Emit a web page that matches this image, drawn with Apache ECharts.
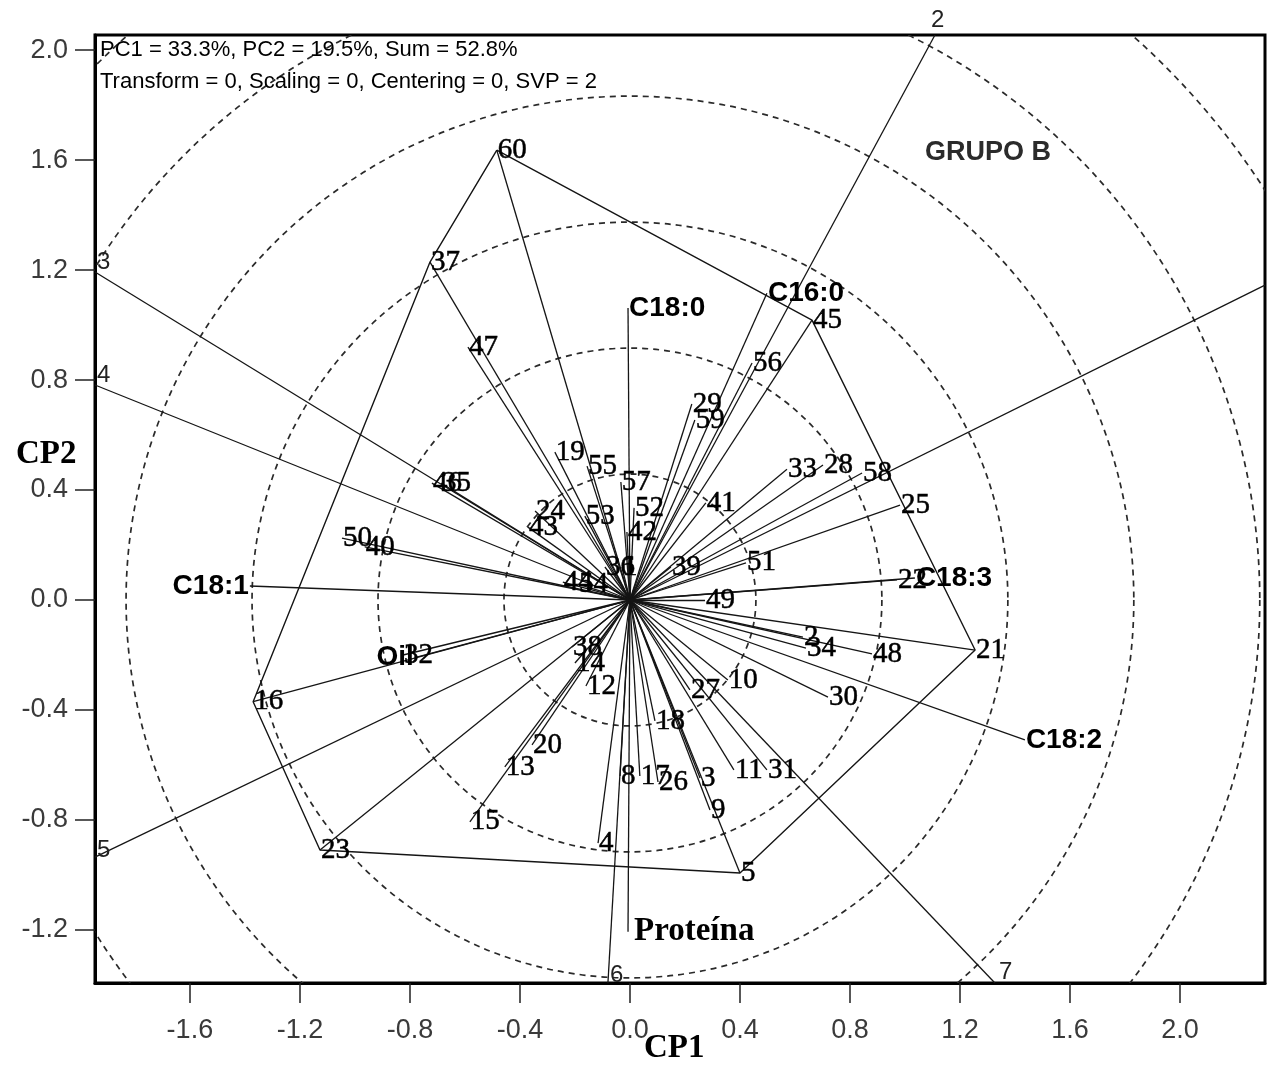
<!DOCTYPE html>
<html><head><meta charset="utf-8">
<script src="https://cdn.jsdelivr.net/npm/echarts@6/dist/echarts.min.js"></script>
<style>html,body{margin:0;padding:0;background:#fff}#c{width:1274px;height:1068px}</style>
</head><body><div id="c"></div>
<script>
// ---- data ----
const genoLabels = ['60','37','47','46','35','50','40','19','55','57','52','53','24','43','42',
  '29','59','56','45','33','28','58','25','41','39','51','49','22',
  '21','48','34','2','10','27','30','18','11','31','3','9','26','17','8','5','4',
  '12','38','14','20','13','15','23','16','32','44','54','36','1'];
const genoX = [-0.484,-0.727,-0.589,-0.720,-0.687,-1.047,-0.964,-0.273,-0.156,-0.033,0.015,-0.164,-0.345,-0.371,-0.011,
  0.225,0.236,0.444,0.662,0.571,0.702,0.844,0.982,0.276,0.149,0.422,0.273,0.971,
  1.255,0.880,0.640,0.629,0.356,0.218,0.720,0.091,0.378,0.498,0.255,0.291,0.102,0.036,-0.036,0.400,-0.116,
  -0.160,-0.211,-0.200,-0.356,-0.455,-0.582,-1.127,-1.370,-0.825,-0.244,-0.189,-0.091,-0.029];
const genoY = [1.636,1.229,0.920,0.425,0.425,0.225,0.193,0.538,0.487,0.429,0.335,0.305,0.324,0.265,0.247,
  0.713,0.655,0.862,1.018,0.476,0.491,0.462,0.345,0.353,0.120,0.135,0.000,0.073,
  -0.182,-0.196,-0.175,-0.135,-0.291,-0.327,-0.353,-0.440,-0.618,-0.618,-0.647,-0.764,-0.662,-0.640,-0.640,-0.993,-0.884,
  -0.313,-0.171,-0.229,-0.527,-0.607,-0.807,-0.909,-0.370,-0.200,0.065,0.058,0.120,0.120];

const traitLabels = ['C18:0','C16:0','C18:3','C18:2','C18:1','Oil'];
const traitX = [-0.007,0.498,1.036,1.436,-1.382,-0.782];
const traitY = [1.062,1.116,0.080,-0.509,0.051,-0.210];
const proteinLabel = ['Proteína'];
const proteinX = [-0.007];
const proteinY = [-1.207];

const hullOrder = ['60','45','21','5','23','16','37','60'];

const rayLabels = ['2','3','4','5','6','7',''];
const rayX = [1.109,-1.945,-1.945,-1.945,-0.080,1.327,2.309];
const rayY = [2.055,1.193,0.782,-0.935,-1.393,-1.393,1.145];

const circleRadii = [0.458,0.916,1.374,1.832,2.290,2.748];

const xTicks = [-1.6,-1.2,-0.8,-0.4,0.0,0.4,0.8,1.2,1.6,2.0];
const yTicks = [-1.2,-0.8,-0.4,0.0,0.4,0.8,1.2,1.6,2.0];

// ---- chart ----
const LINE = '#151515';
const chart = echarts.init(document.getElementById('c'), null, {renderer:'canvas'});

const vec = [];
genoX.forEach((x,i)=>vec.push({coords:[[0,0],[x,genoY[i]]]}));
traitX.forEach((x,i)=>vec.push({coords:[[0,0],[x,traitY[i]]]}));
proteinX.forEach((x,i)=>vec.push({coords:[[0,0],[x,proteinY[i]]]}));
rayX.forEach((x,i)=>vec.push({coords:[[0,0],[x,rayY[i]]]}));

const hullData = hullOrder.map(l=>{const i=genoLabels.indexOf(l);return [genoX[i],genoY[i]];});

const genoData = genoLabels.map((l,i)=>({name:l,value:[genoX[i],genoY[i]]}));
const traitData = traitLabels.map((l,i)=>({name:l,value:[traitX[i],traitY[i]],
  label:{position: traitX[i] < -0.5 ? 'left' : 'right'}}));
const rayOffsets = [[-6,-15],[0,-10],[0,-10],[0,-7],[0,-8],[2,-11],[0,0]];
const rayData = rayLabels.map((l,i)=>({name:l,value:[rayX[i],rayY[i]],label:{offset:rayOffsets[i]}}));

const SC = {type:'scatter', silent:true, clip:false, symbolSize:0, itemStyle:{opacity:1}};

chart.setOption({
  animation:false,
  grid:{left:95, top:35, width:1170, height:948, show:true, borderColor:'#000', borderWidth:3, containLabel:false},
  xAxis:{type:'value', min:-1.945, max:2.309,
    axisLine:{show:true, onZero:false, lineStyle:{color:'#000', width:3}},
    axisTick:{show:true, customValues:xTicks, length:20, lineStyle:{color:'#222', width:1.5}},
    axisLabel:{show:true, customValues:xTicks, margin:34, formatter:v=>v.toFixed(1),
      fontFamily:'Liberation Sans', fontSize:27, color:'#3a3a3a'},
    splitLine:{show:false}},
  yAxis:{type:'value', min:-1.393, max:2.055,
    axisLine:{show:true, onZero:false, lineStyle:{color:'#000', width:3}},
    axisTick:{show:true, customValues:yTicks, length:20, lineStyle:{color:'#222', width:1.5}},
    axisLabel:{show:true, customValues:yTicks, margin:27, formatter:v=>v.toFixed(1),
      fontFamily:'Liberation Sans', fontSize:27, color:'#3a3a3a'},
    splitLine:{show:false}},
  series:[
    {type:'custom', clip:true, silent:true, z:1,
     data:circleRadii.map(r=>[r]),
     dimensions:['r'], encode:{x:0, y:0},
     renderItem:(params, api)=>{
       const c = api.coord([0,0]);
       const r = api.size([api.value(0),0])[0];
       return {type:'circle', shape:{cx:c[0], cy:c[1], r:r},
         style:{fill:'none', stroke:'#2a2a2a', lineWidth:1.7, lineDash:[6,5]}};
     }},
    {type:'lines', coordinateSystem:'cartesian2d', silent:true, z:2,
     lineStyle:{color:LINE, width:1.3, opacity:1, curveness:0}, data:vec},
    {type:'line', silent:true, z:2, showSymbol:false, symbol:'none',
     lineStyle:{color:LINE, width:1.4}, data:hullData},
    Object.assign({}, SC, {z:5, data:genoData,
     label:{show:true, position:'right', distance:1, formatter:p=>p.name,
       fontFamily:'Liberation Serif', fontSize:29, color:'#000',
       textBorderColor:'#000', textBorderWidth:0.5}}),
    Object.assign({}, SC, {z:6, data:traitData,
     label:{show:true, position:'right', distance:1, formatter:p=>p.name,
       fontFamily:'Liberation Sans', fontWeight:'bold', fontSize:28, color:'#000'}}),
    Object.assign({}, SC, {z:6,
     data:proteinLabel.map((l,i)=>({name:l,value:[proteinX[i],proteinY[i]]})),
     label:{show:true, position:'right', distance:6, formatter:p=>p.name,
       fontFamily:'Liberation Serif', fontWeight:'bold', fontSize:33, color:'#000'}}),
    Object.assign({}, SC, {z:6, data:rayData,
     label:{show:true, position:'right', distance:2, formatter:p=>p.name,
       fontFamily:'Liberation Sans', fontSize:24, color:'#222'}})
  ],
  graphic:[
    {type:'text', left:100, top:39, z:10, style:{text:'PC1 = 33.3%, PC2 = 19.5%, Sum = 52.8%', font:'22px "Liberation Sans"', fill:'#000'}},
    {type:'text', left:100, top:71, z:10, style:{text:'Transform = 0, Scaling = 0, Centering = 0, SVP = 2', font:'22px "Liberation Sans"', fill:'#000'}},
    {type:'text', left:925, top:139, z:10, style:{text:'GRUPO B', font:'bold 27px "Liberation Sans"', fill:'#2b2b2b'}},
    {type:'text', left:16, top:438, z:10, style:{text:'CP2', font:'bold 33px "Liberation Serif"', fill:'#000'}},
    {type:'text', left:644, top:1032, z:10, style:{text:'CP1', font:'bold 33px "Liberation Serif"', fill:'#000'}}
  ]
});
</script>
</body></html>
